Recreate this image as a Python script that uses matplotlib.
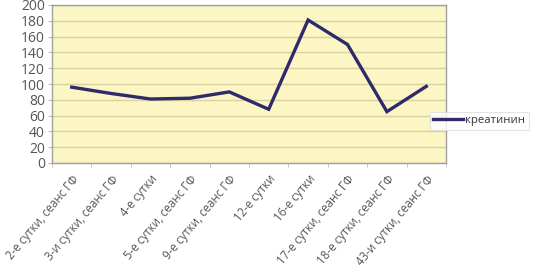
import matplotlib
matplotlib.use("Agg")
import matplotlib.pyplot as plt

categories = ["2-е сутки, сеанс ГФ", "3-и сутки, сеанс ГФ", "4-е сутки",
              "5-е сутки, сеанс ГФ", "9-е сутки, сеанс ГФ", "12-е сутки",
              "16-е сутки", "17-е сутки, сеанс ГФ", "18-е сутки, сеанс ГФ",
              "43-и сутки, сеанс ГФ"]
creatinine = [96, 88, 81, 82, 90, 68, 181, 150, 65, 97]
yticks = [0, 20, 40, 60, 80, 100, 120, 140, 160, 180, 200]

plt.rcParams['font.family'] = ['Open Sans', 'DejaVu Sans']

fig = plt.figure(figsize=(5.33, 2.71), dpi=100)
ax = fig.add_axes([52/533, 1 - 163/271, (446-52)/533, (163-5)/271])
ax.set_facecolor("#FBF6C4")
x = list(range(len(categories)))
ax.plot(x, creatinine, color="#2E2A6B", lw=2.4, label="креатинин", solid_joinstyle="miter")
ax.set_xlim(-0.5, len(categories) - 0.5)
ax.set_ylim(0, 200)
ax.set_yticks(yticks)
ax.set_yticklabels([str(v) for v in yticks], fontsize=10, color="#555555")
ax.yaxis.grid(True, color="#D9D2A0", lw=1)
ax.set_axisbelow(True)
ax.set_xticks(x)
ax.set_xticklabels(categories, rotation=50, ha="right", rotation_mode="anchor",
                   fontsize=8.3, color="#555555")
ax.set_xticks([i + 0.5 for i in range(-1, len(categories))], minor=True)
ax.tick_params(axis="x", which="major", length=0, pad=7)
ax.tick_params(axis="x", which="minor", length=3, color="#BBBBBB")
ax.tick_params(axis="y", length=3, color="#BBBBBB", pad=2)
for s in ax.spines.values():
    s.set_color("#A0A0A0")
    s.set_linewidth(1)
leg = ax.legend(loc="upper left", bbox_to_anchor=(430/533, 1 - 112/271),
                bbox_transform=fig.transFigure, frameon=True, fancybox=False,
                fontsize=8.2, handlelength=2.6, borderpad=0.3, handletextpad=0.2,
                borderaxespad=0, labelcolor="#333333")
leg.get_frame().set_edgecolor("#DDDDDD")
leg.get_frame().set_linewidth(0.8)
fig.savefig("out.png", dpi=100)
